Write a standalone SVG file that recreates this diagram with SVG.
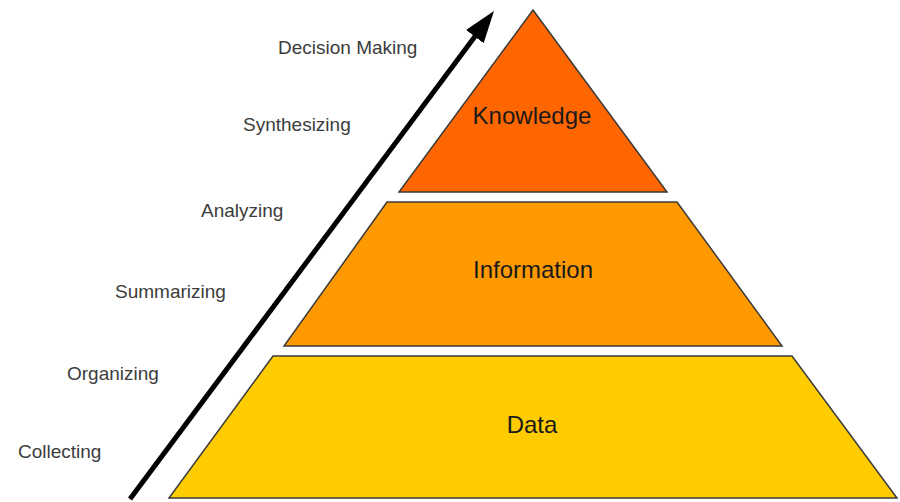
<svg xmlns="http://www.w3.org/2000/svg" width="900" height="502" viewBox="0 0 900 502">
  <style>
    .tier { stroke: #3a3a3a; stroke-width: 1.5; stroke-linejoin: miter; }
    .tier-label { font-family: "Liberation Sans", Arial, sans-serif; font-size: 24px; fill: #1a1a1a; text-anchor: middle; }
    .step { font-family: "Liberation Sans", Arial, sans-serif; font-size: 19px; fill: #3c3c3c; }
    .arrow { stroke: #000; stroke-width: 5; fill: none; }
  </style>
  <defs>
    <marker id="head" viewBox="0 0 32 22" markerWidth="32" markerHeight="22" refX="12" refY="11" orient="auto" markerUnits="userSpaceOnUse">
      <path d="M0,0 L32,11 L0,22 z" fill="#000"/>
    </marker>
  </defs>
  <rect width="900" height="502" fill="#fff"/>

  <g id="connectors">
    <line class="arrow" x1="130" y1="499" x2="482" y2="27" marker-end="url(#head)"/>
  </g>

  <g id="knowledge">
    <polygon class="tier" points="533,10 667,192 399,192" fill="#FF6600"/>
    <text class="tier-label" x="532" y="124">Knowledge</text>
  </g>
  <g id="information">
    <polygon class="tier" points="387,202 677,202 782,346 284,346" fill="#FF9900"/>
    <text class="tier-label" x="533" y="278">Information</text>
  </g>
  <g id="data">
    <polygon class="tier" points="273,356 792,356 897,498 169,498" fill="#FFCC00"/>
    <text class="tier-label" x="532" y="433">Data</text>
  </g>

  <g id="steps">
    <text class="step" x="278" y="54">Decision Making</text>
    <text class="step" x="243" y="131">Synthesizing</text>
    <text class="step" x="201" y="217">Analyzing</text>
    <text class="step" x="115" y="298">Summarizing</text>
    <text class="step" x="67" y="380">Organizing</text>
    <text class="step" x="18" y="458">Collecting</text>
  </g>
</svg>
